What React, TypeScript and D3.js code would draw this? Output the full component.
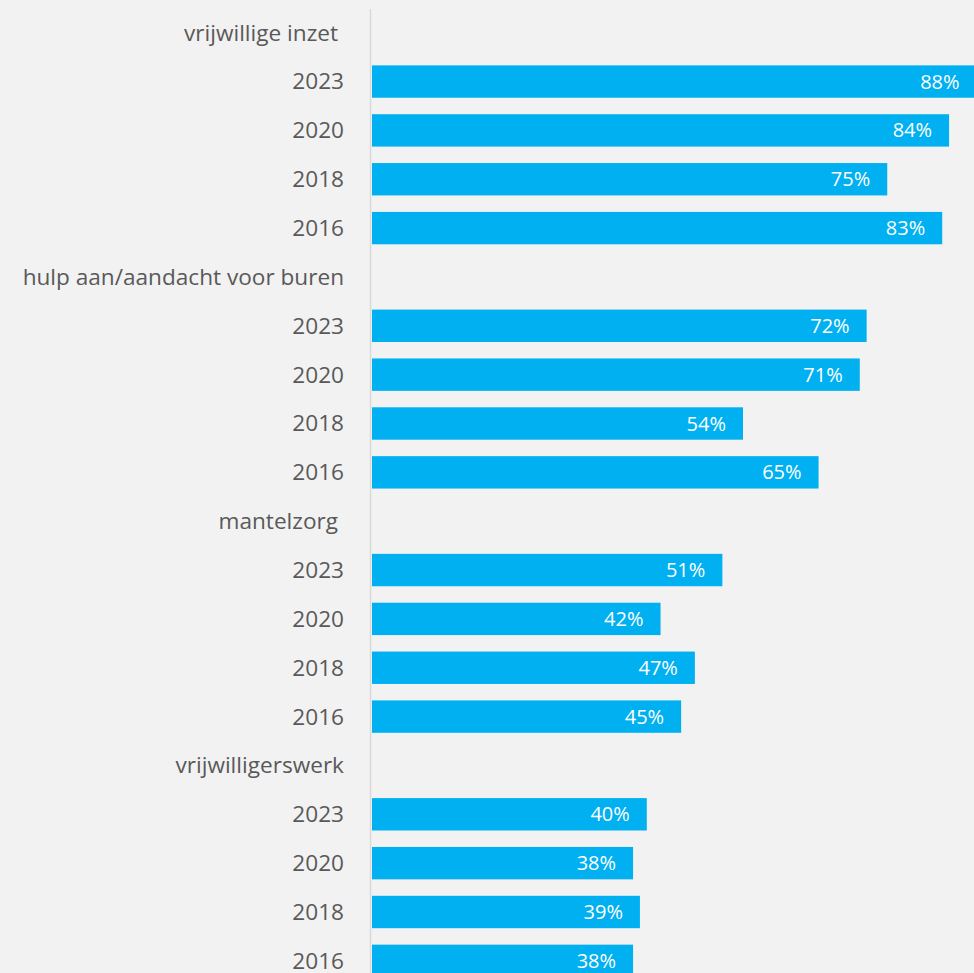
import React from "react";
import * as d3 from "d3";

const groups = ["vrijwillige inzet", "hulp aan/aandacht voor buren", "mantelzorg", "vrijwilligerswerk"];
const years = ["2023", "2020", "2018", "2016"];
const values2023 = [88, 72, 51, 40];
const values2020 = [84, 71, 42, 38];
const values2018 = [75, 54, 47, 39];
const values2016 = [83, 65, 45, 38];

const W = 974;
const H = 973;

type Row = { id: string; label: string; value: number | null; group: boolean };

const series = [values2023, values2020, values2018, values2016];
const rows: Row[] = [];
groups.forEach((g, gi) => {
  rows.push({ id: `g${gi}`, label: g, value: null, group: true });
  years.forEach((y, yi) => {
    rows.push({ id: `g${gi}-${y}`, label: y, value: series[yi][gi], group: false });
  });
});

export default function App() {
  const step = 48.85;
  const y0 = 32.7 - step / 2;
  const y = d3
    .scaleBand<string>()
    .domain(rows.map((r) => r.id))
    .range([y0, y0 + step * rows.length])
    .paddingInner(0.337)
    .paddingOuter(0.337 / 2);
  const x = d3.scaleLinear().domain([0, 100]).range([372, 372 + 687]);
  const font = "Open Sans, sans-serif";

  return (
    <svg
      width={W}
      height={H}
      style={{ position: "fixed", left: 0, top: 0, background: "#f2f2f2" }}
    >
      <rect x={0} y={0} width={W} height={H} fill="#f2f2f2" />
      {rows.map((r) => {
        const yc = (y(r.id) as number) + y.bandwidth() / 2;
        return (
          <g key={r.id}>
            <text
              x={r.group && r.label !== "hulp aan/aandacht voor buren" && r.label !== "vrijwilligerswerk" ? 338 : 344}
              y={yc}
              dy="0.35em"
              textAnchor="end"
              fontFamily={font}
              fontSize={22.6}
              fill="#595959"
            >
              {r.label}
            </text>
            {r.value !== null && (
              <>
                <rect
                  x={x(0)}
                  y={y(r.id)}
                  width={x(r.value) - x(0)}
                  height={y.bandwidth()}
                  fill="#00b0f0"
                />
                <text
                  x={x(r.value) - 17}
                  y={yc}
                  dy="0.35em"
                  textAnchor="end"
                  fontFamily={font}
                  fontSize={20}
                  fill="#ffffff"
                >
                  {r.value}%
                </text>
              </>
            )}
          </g>
        );
      })}
      <line x1={370.5} x2={370.5} y1={9} y2={H} stroke="#d9d9d9" strokeWidth={1.5} />
    </svg>
  );
}
